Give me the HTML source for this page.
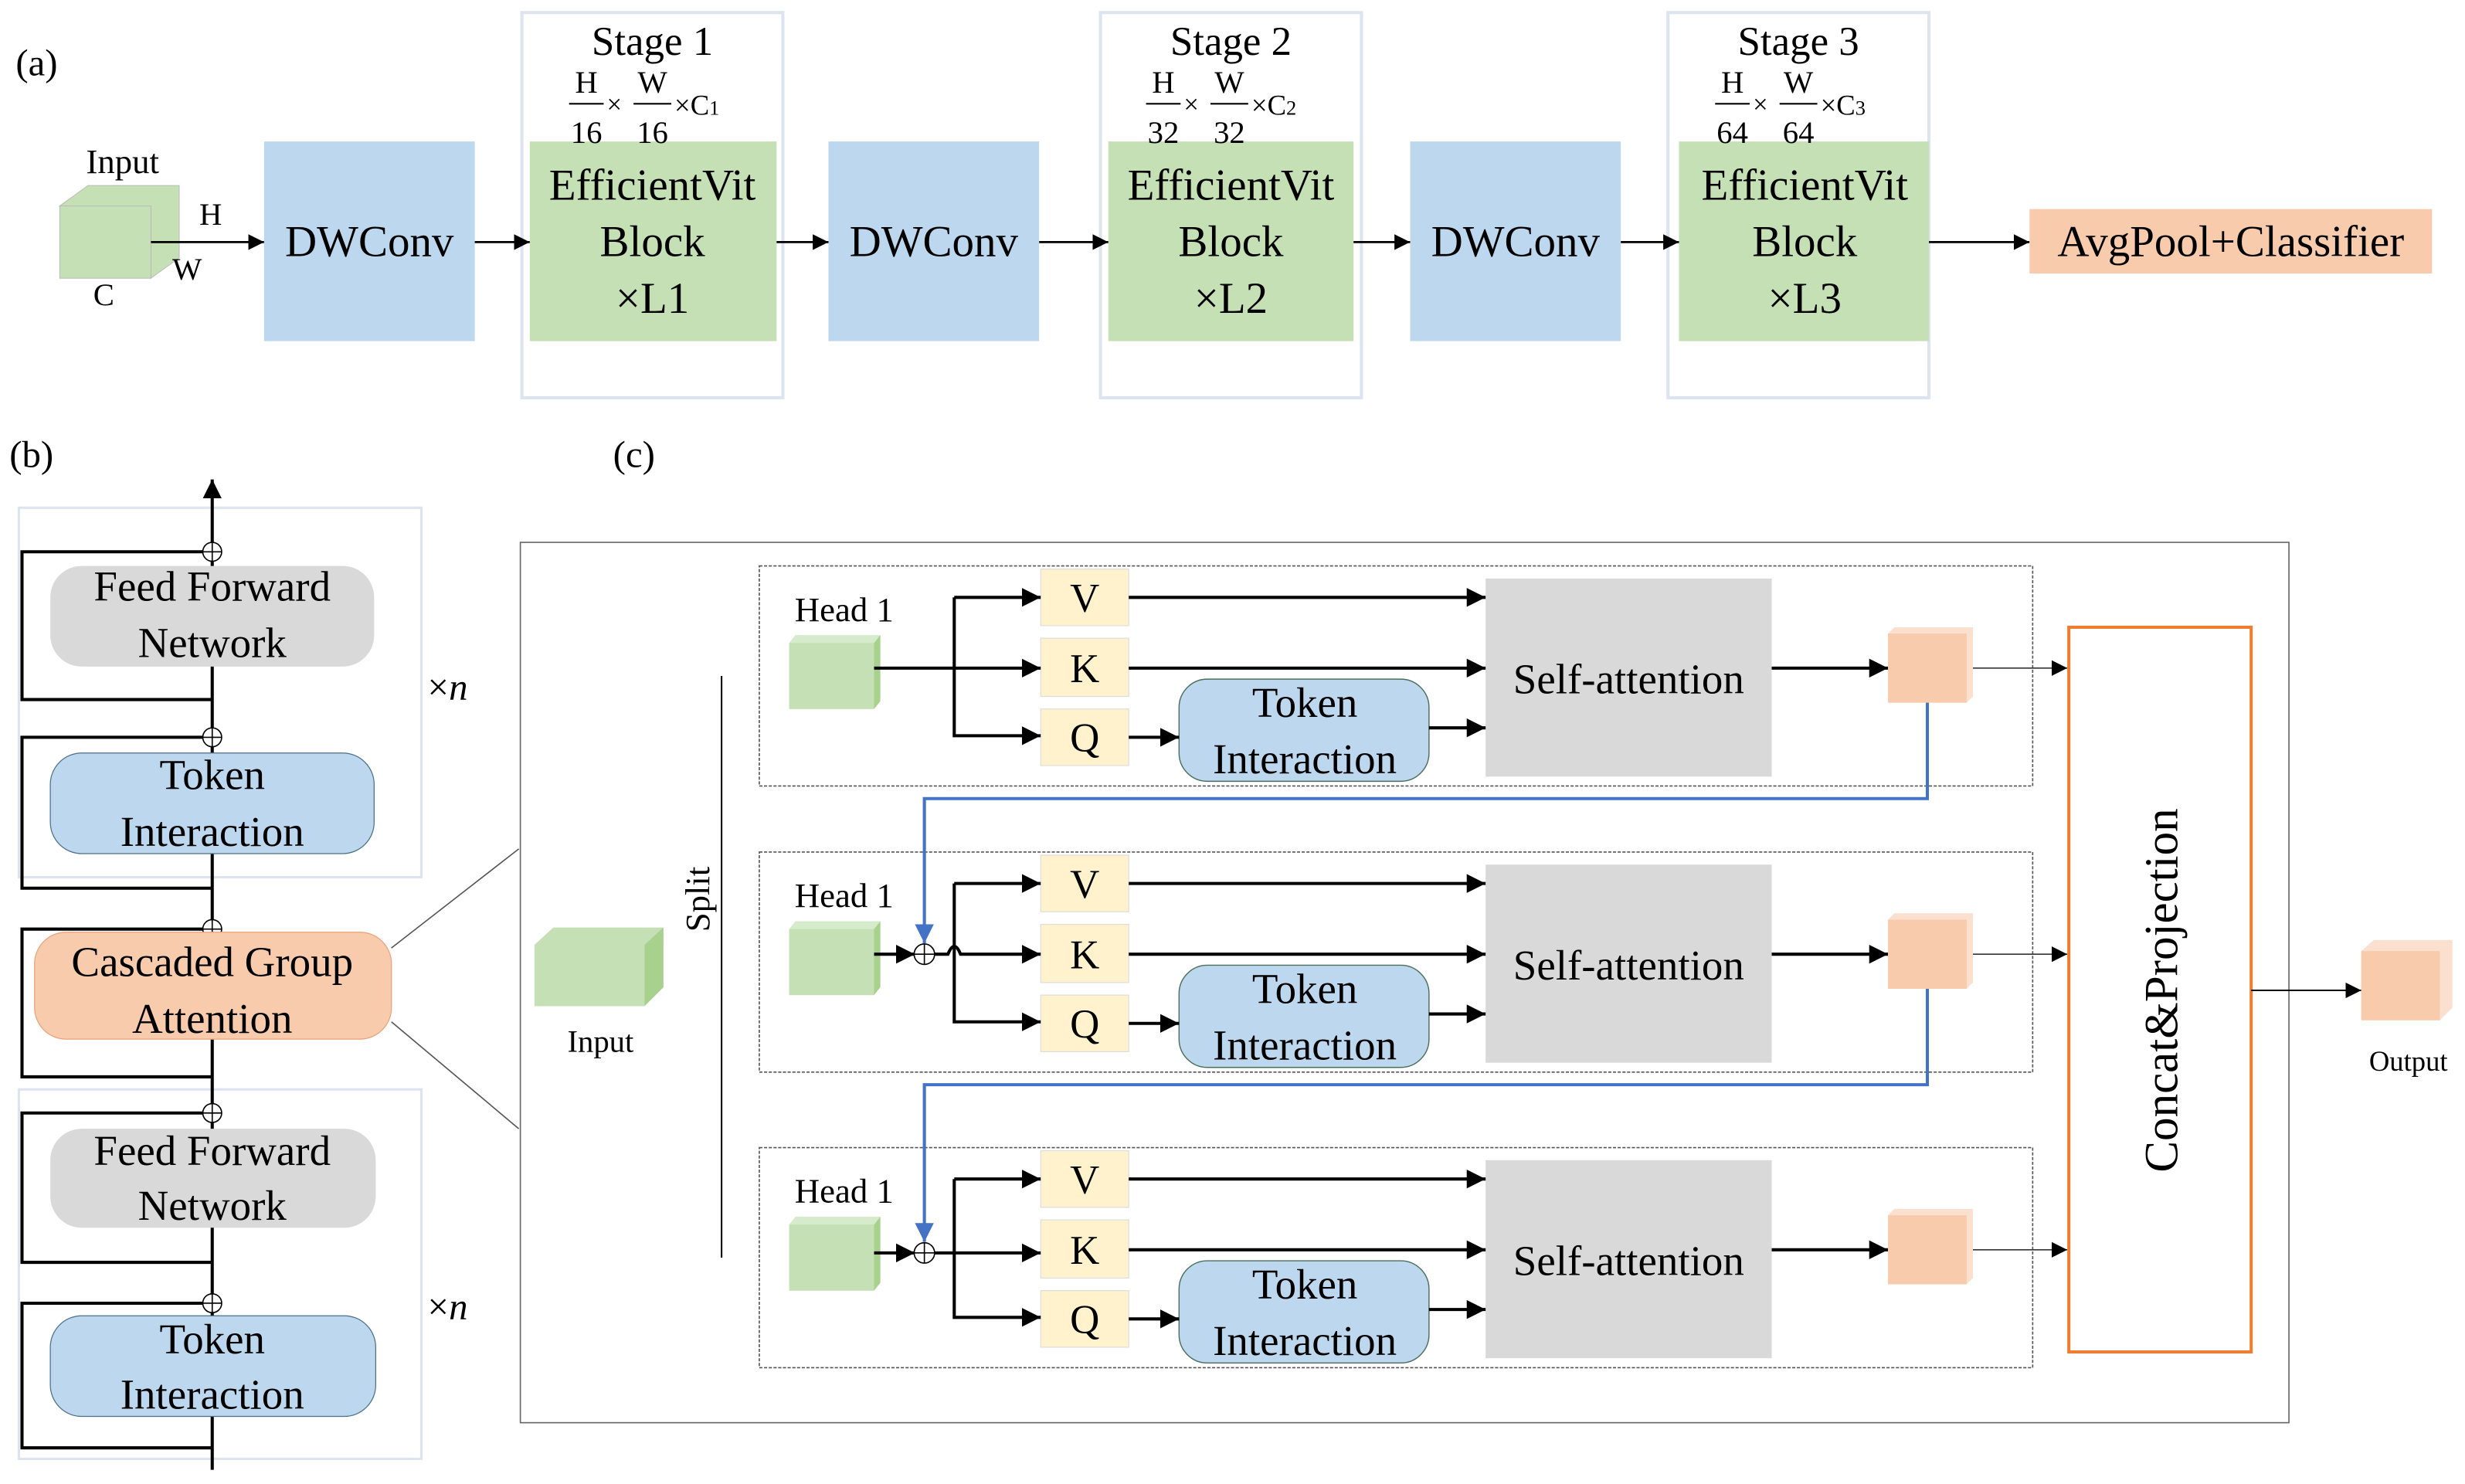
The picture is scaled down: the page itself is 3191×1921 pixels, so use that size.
<!DOCTYPE html>
<html><head><meta charset="utf-8"><style>
html,body{margin:0;padding:0;background:#fff;}
svg{display:block;}
svg text{font-family:'Liberation Serif','Times New Roman',Times,serif !important;fill:#000;}
</style></head><body>
<svg width="3191" height="1921" viewBox="0 0 1568 944" preserveAspectRatio="none" xmlns="http://www.w3.org/2000/svg" font-family="Liberation Serif, serif">
<defs>
<marker id="ah" viewBox="0 0 10 10" refX="10" refY="5" markerWidth="10" markerHeight="10" markerUnits="userSpaceOnUse" orient="auto"><path d="M0,0L10,5L0,10z" fill="#000"/></marker>
<marker id="ahb" viewBox="0 0 10 10" refX="10" refY="5" markerWidth="12" markerHeight="12" markerUnits="userSpaceOnUse" orient="auto"><path d="M0,0L10,5L0,10z" fill="#000"/></marker>
<marker id="ahbl" viewBox="0 0 10 10" refX="10" refY="5" markerWidth="12" markerHeight="12" markerUnits="userSpaceOnUse" orient="auto"><path d="M0,0L10,5L0,10z" fill="#4472c4"/></marker>
</defs>

<!-- (a) -->
<text x="10" y="48" font-size="24">(a)</text>
<text x="78" y="110" font-size="22" text-anchor="middle">Input</text>
<polygon points="38,131 56,118 114,118 114,164 96,177 96,131" fill="#c5e0b4" stroke="#bbb" stroke-width="0.5"/>
<rect x="38" y="131" width="58" height="46" fill="#c5e0b4" stroke="#bbb" stroke-width="0.5"/>
<text x="134" y="143" font-size="20" text-anchor="middle">H</text>
<text x="119" y="178" font-size="20" text-anchor="middle">W</text>
<text x="66" y="194" font-size="20" text-anchor="middle">C</text>
<line x1="96" y1="154" x2="168" y2="154" stroke="#000" stroke-width="1.3" marker-end="url(#ah)"/>

<g font-size="28" text-anchor="middle">
<rect x="168" y="90" width="134" height="127" fill="#bdd7ee"/>
<text x="235" y="163">DWConv</text>
<rect x="527" y="90" width="134" height="127" fill="#bdd7ee"/>
<text x="594" y="163">DWConv</text>
<rect x="897" y="90" width="134" height="127" fill="#bdd7ee"/>
<text x="964" y="163">DWConv</text>
</g>

<g font-size="28" text-anchor="middle">
<rect x="332" y="8" width="166" height="245" fill="none" stroke="#dde3ef" stroke-width="2"/>
<rect x="337" y="90" width="157" height="127" fill="#c5e0b4"/>
<text x="415" y="35" font-size="26">Stage 1</text>
<text x="415" y="127">EfficientVit</text><text x="415" y="163">Block</text><text x="415" y="199">×L1</text>

<rect x="700" y="8" width="166" height="245" fill="none" stroke="#dde3ef" stroke-width="2"/>
<rect x="705" y="90" width="156" height="127" fill="#c5e0b4"/>
<text x="783" y="35" font-size="26">Stage 2</text>
<text x="783" y="127">EfficientVit</text><text x="783" y="163">Block</text><text x="783" y="199">×L2</text>

<rect x="1061" y="8" width="166" height="245" fill="none" stroke="#dde3ef" stroke-width="2"/>
<rect x="1068" y="90" width="159" height="127" fill="#c5e0b4"/>
<text x="1144" y="35" font-size="26">Stage 3</text>
<text x="1148" y="127">EfficientVit</text><text x="1148" y="163">Block</text><text x="1148" y="199">×L3</text>
</g>
<g font-size="20">
<g transform="translate(362,0)"><text x="11" y="59" text-anchor="middle">H</text><line x1="0" y1="66" x2="22" y2="66" stroke="#000"/><text x="11" y="91" text-anchor="middle">16</text><text x="24" y="72" font-size="17">×</text><text x="53" y="59" text-anchor="middle">W</text><line x1="41" y1="66" x2="65" y2="66" stroke="#000"/><text x="53" y="91" text-anchor="middle">16</text><text x="67" y="73" font-size="18">×C<tspan font-size="13">1</tspan></text></g>
<g transform="translate(729,0)"><text x="11" y="59" text-anchor="middle">H</text><line x1="0" y1="66" x2="22" y2="66" stroke="#000"/><text x="11" y="91" text-anchor="middle">32</text><text x="24" y="72" font-size="17">×</text><text x="53" y="59" text-anchor="middle">W</text><line x1="41" y1="66" x2="65" y2="66" stroke="#000"/><text x="53" y="91" text-anchor="middle">32</text><text x="67" y="73" font-size="18">×C<tspan font-size="13">2</tspan></text></g>
<g transform="translate(1091,0)"><text x="11" y="59" text-anchor="middle">H</text><line x1="0" y1="66" x2="22" y2="66" stroke="#000"/><text x="11" y="91" text-anchor="middle">64</text><text x="24" y="72" font-size="17">×</text><text x="53" y="59" text-anchor="middle">W</text><line x1="41" y1="66" x2="65" y2="66" stroke="#000"/><text x="53" y="91" text-anchor="middle">64</text><text x="67" y="73" font-size="18">×C<tspan font-size="13">3</tspan></text></g>
</g>
<g stroke="#000" stroke-width="1.3" marker-end="url(#ah)">
<line x1="302" y1="154" x2="337" y2="154"/>
<line x1="494" y1="154" x2="527" y2="154"/>
<line x1="661" y1="154" x2="705" y2="154"/>
<line x1="861" y1="154" x2="897" y2="154"/>
<line x1="1031" y1="154" x2="1068" y2="154"/>
<line x1="1227" y1="154" x2="1291" y2="154"/>
</g>
<rect x="1291" y="133" width="256" height="41" fill="#f8cbad"/>
<text x="1419" y="163" font-size="28" text-anchor="middle">AvgPool+Classifier</text>

<!-- (b) -->
<text x="6" y="297" font-size="24">(b)</text>
<rect x="12" y="323" width="256" height="235" fill="none" stroke="#dde3ef" stroke-width="1.5"/>
<rect x="12" y="693" width="256" height="235" fill="none" stroke="#dde3ef" stroke-width="1.5"/>
<g stroke="#000" stroke-width="2" fill="none">
<line x1="135" y1="935" x2="135" y2="305" marker-end="url(#ahb)"/>
<polyline points="129,351 14,351 14,445 135,445"/>
<polyline points="129,469 14,469 14,565 135,565"/>
<polyline points="129,591 14,591 14,685 135,685"/>
<polyline points="129,708 14,708 14,803 135,803"/>
<polyline points="129,829 14,829 14,921 135,921"/>
</g>
<g fill="#fff" stroke="#000" stroke-width="0.8">
<circle cx="135" cy="351" r="6"/><circle cx="135" cy="469" r="6"/><circle cx="135" cy="591" r="6"/><circle cx="135" cy="708" r="6"/><circle cx="135" cy="829" r="6"/>
</g>
<g stroke="#000" stroke-width="0.8">
<line x1="129" y1="351" x2="141" y2="351"/><line x1="135" y1="345" x2="135" y2="357"/>
<line x1="129" y1="469" x2="141" y2="469"/><line x1="135" y1="463" x2="135" y2="475"/>
<line x1="129" y1="591" x2="141" y2="591"/><line x1="135" y1="585" x2="135" y2="597"/>
<line x1="129" y1="708" x2="141" y2="708"/><line x1="135" y1="702" x2="135" y2="714"/>
<line x1="129" y1="829" x2="141" y2="829"/><line x1="135" y1="823" x2="135" y2="835"/>
</g>
<g font-size="27" text-anchor="middle">
<rect x="32" y="360" width="206" height="64" rx="20" fill="#d9d9d9"/>
<text x="135" y="382">Feed Forward</text><text x="135" y="418">Network</text>
<rect x="32" y="479" width="206" height="64" rx="20" fill="#bdd7ee" stroke="#4a6f8a" stroke-width="0.6"/>
<text x="135" y="502">Token</text><text x="135" y="538">Interaction</text>
<rect x="22" y="593" width="227" height="68" rx="20" fill="#f8cbad" stroke="#e9a27a" stroke-width="0.6"/>
<text x="135" y="621">Cascaded  Group</text><text x="135" y="657">Attention</text>
<rect x="32" y="718" width="207" height="63" rx="20" fill="#d9d9d9"/>
<text x="135" y="741">Feed Forward</text><text x="135" y="776">Network</text>
<rect x="32" y="837" width="207" height="64" rx="20" fill="#bdd7ee" stroke="#4a6f8a" stroke-width="0.6"/>
<text x="135" y="861">Token</text><text x="135" y="896">Interaction</text>
</g>
<text x="272" y="445" font-size="24">×<tspan font-style="italic">n</tspan></text>
<text x="272" y="839" font-size="24">×<tspan font-style="italic">n</tspan></text>
<line x1="249" y1="603" x2="330" y2="540" stroke="#555" stroke-width="0.8"/>
<line x1="249" y1="650" x2="330" y2="718" stroke="#555" stroke-width="0.8"/>

<!-- (c) -->
<text x="390" y="297" font-size="24">(c)</text>
<rect x="331" y="345" width="1125" height="560" fill="none" stroke="#666" stroke-width="0.8"/>
<line x1="459" y1="430" x2="459" y2="800" stroke="#000" stroke-width="1"/>
<text transform="translate(451,572) rotate(-90)" font-size="22" text-anchor="middle">Split</text>
<polygon points="340,601 352,590 422,590 422,628 410,640 340,640" fill="#c5e0b4"/>
<polygon points="410,601 422,590 422,628 410,640" fill="#a9d18e"/>
<rect x="340" y="601" width="70" height="39" fill="#c5e0b4"/>
<text x="382" y="669" font-size="20" text-anchor="middle">Input</text>

<g id="head">
<rect x="483" y="360" width="810" height="140" fill="none" stroke="#555" stroke-width="0.8" stroke-dasharray="2,1"/>
<text x="537" y="395" font-size="22" text-anchor="middle">Head 1</text>
<polygon points="502,409 506,404 560,404 556,451 502,451" fill="#d6ebcc"/>
<polygon points="556,409 560,404 560,446 556,451" fill="#a9d18e"/>
<rect x="502" y="409" width="54" height="42" fill="#c5e0b4"/>
<rect x="662" y="362" width="56" height="36" fill="#fff2cc" stroke="#ddd" stroke-width="0.6"/>
<rect x="662" y="406" width="56" height="37" fill="#fff2cc" stroke="#ddd" stroke-width="0.6"/>
<rect x="662" y="451" width="56" height="36" fill="#fff2cc" stroke="#ddd" stroke-width="0.6"/>
<g font-size="26" text-anchor="middle"><text x="690" y="389">V</text><text x="690" y="434">K</text><text x="690" y="478">Q</text></g>
<rect x="750" y="432" width="159" height="65" rx="18" fill="#bdd7ee" stroke="#4a6f5a" stroke-width="0.7"/>
<g font-size="27" text-anchor="middle"><text x="830" y="456">Token</text><text x="830" y="492">Interaction</text></g>
<rect x="945" y="368" width="182" height="126" fill="#d9d9d9"/>
<text x="1036" y="441" font-size="27" text-anchor="middle">Self-attention</text>
<g stroke="#000" stroke-width="2" fill="none" marker-end="url(#ahb)">
<polyline points="607,380 607,468 662,468"/>
<line x1="607" y1="380" x2="662" y2="380"/>
<line x1="718" y1="380" x2="945" y2="380"/>
<line x1="718" y1="425" x2="945" y2="425"/>
<line x1="718" y1="469" x2="750" y2="469"/>
<line x1="909" y1="463" x2="945" y2="463"/>
<line x1="1127" y1="425" x2="1201" y2="425"/>
</g>
<polygon points="1201,403 1205,399 1255,399 1255,443 1251,447 1201,447" fill="#fbe0cf"/>
<rect x="1201" y="403" width="50" height="44" fill="#f8cbad"/>
<line x1="1255" y1="425" x2="1315" y2="425" stroke="#333" stroke-width="0.8" marker-end="url(#ah)"/>
</g>
<line x1="556" y1="425" x2="662" y2="425" stroke="#000" stroke-width="2" marker-end="url(#ahb)"/>
<use href="#head" transform="translate(0,182)"/>
<use href="#head" transform="translate(0,370)"/>
<g stroke="#000" stroke-width="2" fill="none">
<line x1="556" y1="607" x2="582" y2="607" marker-end="url(#ahb)"/>
<path d="M594,607 L603,607 Q607,597 611,607 L662,607" marker-end="url(#ahb)"/>
<line x1="556" y1="797" x2="582" y2="797" marker-end="url(#ahb)"/>
<line x1="594" y1="797" x2="662" y2="797" marker-end="url(#ahb)"/>
</g>
<g fill="#fff" stroke="#000" stroke-width="0.8">
<circle cx="588" cy="607" r="6.5"/><circle cx="588" cy="797" r="6.5"/>
<line x1="581.5" y1="607" x2="594.5" y2="607"/><line x1="588" y1="600.5" x2="588" y2="613.5"/>
<line x1="581.5" y1="797" x2="594.5" y2="797"/><line x1="588" y1="790.5" x2="588" y2="803.5"/>
</g>
<g stroke="#4472c4" stroke-width="2" fill="none" marker-end="url(#ahbl)">
<polyline points="1226,447 1226,508 588,508 588,600"/>
<polyline points="1226,629 1226,690 588,690 588,790"/>
</g>
<rect x="1316" y="399" width="116" height="461" fill="#fff" stroke="#ed7d31" stroke-width="2"/>
<text transform="translate(1385,630) rotate(-90)" font-size="30" text-anchor="middle">Concat&amp;Projection</text>
<line x1="1432" y1="630" x2="1502" y2="630" stroke="#000" stroke-width="1" marker-end="url(#ah)"/>
<polygon points="1502,605 1510,598 1560,598 1560,641 1552,649 1502,649" fill="#fbe0cf"/>
<rect x="1502" y="605" width="50" height="44" fill="#f8cbad"/>
<text x="1532" y="681" font-size="18" text-anchor="middle">Output</text>
</svg>
</body></html>
